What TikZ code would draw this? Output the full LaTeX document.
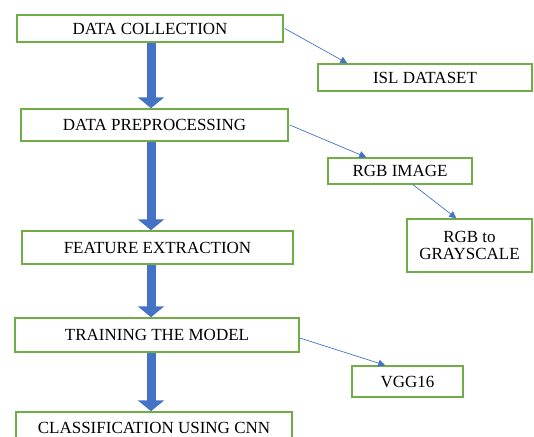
\documentclass[tikz,border=0pt]{standalone}
\usepackage{fontspec}
\setmainfont{Liberation Serif}
\usetikzlibrary{arrows.meta}
\definecolor{boxgreen}{HTML}{70AD47}
\definecolor{arrblue}{HTML}{4472C4}
\begin{document}
\begin{tikzpicture}[x=1pt,y=-1pt,
  stepbox/.style={draw=boxgreen, line width=1.5pt, fill=white, inner sep=0pt,
    font=\fontsize{17}{16.5}\selectfont, align=center, text=black},
  blockarrow/.style={draw=arrblue, line width=9pt,
    -{Triangle[width=26pt,length=11pt]}},
  thinarrow/.style={draw=arrblue, line width=0.7pt,
    -{Triangle[width=7pt,length=7pt]}}]
\useasboundingbox (0,0) rectangle (534,436);
\clip (0,0) rectangle (534,436);
% main boxes
\node[stepbox, minimum width=266pt, minimum height=27pt] (dc) at (150,28.5) {DATA COLLECTION};
\node[stepbox, minimum width=267pt, minimum height=32pt] (dp) at (154.5,125) {DATA PREPROCESSING};
\node[stepbox, minimum width=271pt, minimum height=33pt] (fe) at (157.5,247.5) {FEATURE EXTRACTION};
\node[stepbox, minimum width=284pt, minimum height=34pt] (tm) at (157,335) {TRAINING THE MODEL};
\node[stepbox, minimum width=276pt, minimum height=32pt] (cc) at (154,428) {CLASSIFICATION USING CNN};
% side boxes
\node[stepbox, minimum width=214pt, minimum height=27pt] (isl) at (425,77.5) {ISL DATASET};
\node[stepbox, minimum width=144pt, minimum height=26pt] (rgb) at (400,171) {RGB IMAGE};
\node[stepbox, minimum width=125pt, minimum height=53pt] (gray) at (469.5,245.5) {RGB to\\GRAYSCALE};
\node[stepbox, minimum width=111pt, minimum height=31pt] (vgg) at (407.5,381.5) {VGG16};
% block arrows
\coordinate (ax) at (151,0);
\draw[blockarrow] (dc.south -| ax) -- (dp.north -| ax);
\draw[blockarrow] (dp.south -| ax) -- (fe.north -| ax);
\draw[blockarrow] (fe.south -| ax) -- (tm.north -| ax);
\draw[blockarrow] (tm.south -| ax) -- (cc.north -| ax);
% thin arrows
\draw[thinarrow] ([xshift=1pt]dc.east) -- ([xshift=30pt]isl.north west);
\draw[thinarrow] ([xshift=1pt]dp.east) -- ([xshift=39pt]rgb.north west);
\draw[thinarrow] ([xshift=13pt]rgb.south) -- ([xshift=50pt]gray.north west);
\draw[thinarrow] ([yshift=-3pt]tm.east) -- ([xshift=34pt]vgg.north west);
\end{tikzpicture}
\end{document}
